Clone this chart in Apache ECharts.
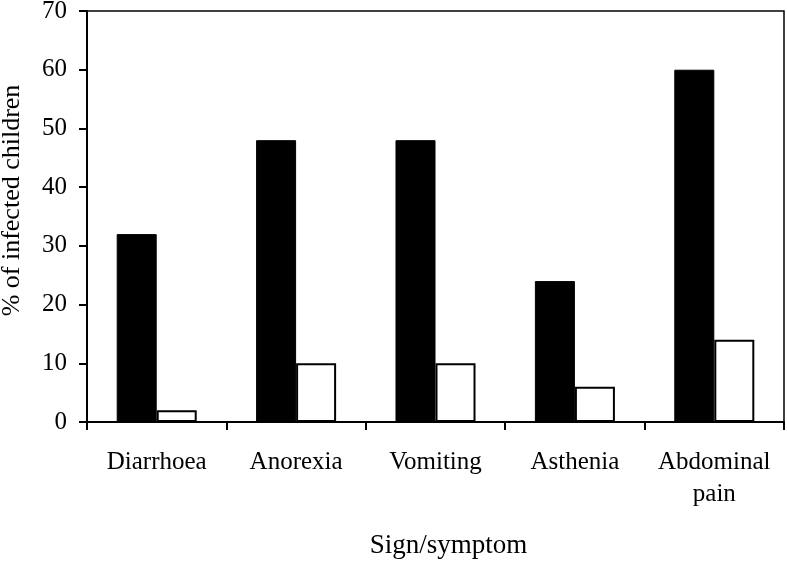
<!DOCTYPE html>
<html>
<head>
<meta charset="utf-8">
<script src="https://cdn.jsdelivr.net/npm/echarts@6/dist/echarts.min.js"></script>
<style>html,body{margin:0;padding:0;background:#fff}#c{width:787px;height:564px}</style>
</head>
<body>
<div id="c"></div>
<script>
const categories = ['Diarrhoea', 'Anorexia', 'Vomiting', 'Asthenia', 'Abdominal\npain'];
const seriesA = [32, 48, 48, 24, 60];
const seriesB = [2, 10, 10, 6, 14];
const yTicks = { min: 0, max: 70, interval: 10 };

const font = '"Liberation Serif", "Times New Roman", serif';
const chart = echarts.init(document.getElementById('c'), null, { renderer: 'canvas' });
chart.setOption({
  animation: false,
  backgroundColor: '#fff',
  textStyle: { fontFamily: font, color: '#000' },
  grid: { left: 87, right: 3, top: 11, bottom: 142, containLabel: false, outerBoundsMode: 'none', show: true, borderColor: '#000', borderWidth: 1.5, backgroundColor: 'transparent' },
  xAxis: {
    type: 'category',
    data: categories,
    name: 'Sign/symptom',
    nameLocation: 'middle',
    nameGap: 110,
    nameTextStyle: { fontFamily: font, fontSize: 27, color: '#000', padding: [0, 0, 0, 26] },
    axisLine: { lineStyle: { color: '#000', width: 2 } },
    axisTick: { show: true, alignWithLabel: false, length: 8, lineStyle: { color: '#000', width: 2 } },
    axisLabel: { fontFamily: font, fontSize: 25, color: '#000', margin: 24, lineHeight: 32, interval: 0 },
    splitLine: { show: false }
  },
  yAxis: {
    type: 'value',
    min: yTicks.min, max: yTicks.max, interval: yTicks.interval,
    name: '% of infected children',
    nameLocation: 'middle',
    nameGap: 62,
    nameRotate: 90,
    nameTextStyle: { fontFamily: font, fontSize: 26, color: '#000', padding: [0, 0, 0, 32] },
    axisLine: { show: true, lineStyle: { color: '#000', width: 2 } },
    axisTick: { show: true, length: 8, lineStyle: { color: '#000', width: 2 } },
    axisLabel: { fontFamily: font, fontSize: 25, color: '#000', margin: 20 },
    splitLine: { show: false }
  },
  series: [
    { type: 'bar', data: seriesA, barGap: '0%', barCategoryGap: '42.6%', itemStyle: { color: '#000', borderColor: '#000', borderWidth: 1 } },
    { type: 'bar', data: seriesB, barGap: '0%', barCategoryGap: '42.6%', itemStyle: { color: '#fff', borderColor: '#000', borderWidth: 2 } }
  ]
});
</script>
</body>
</html>
